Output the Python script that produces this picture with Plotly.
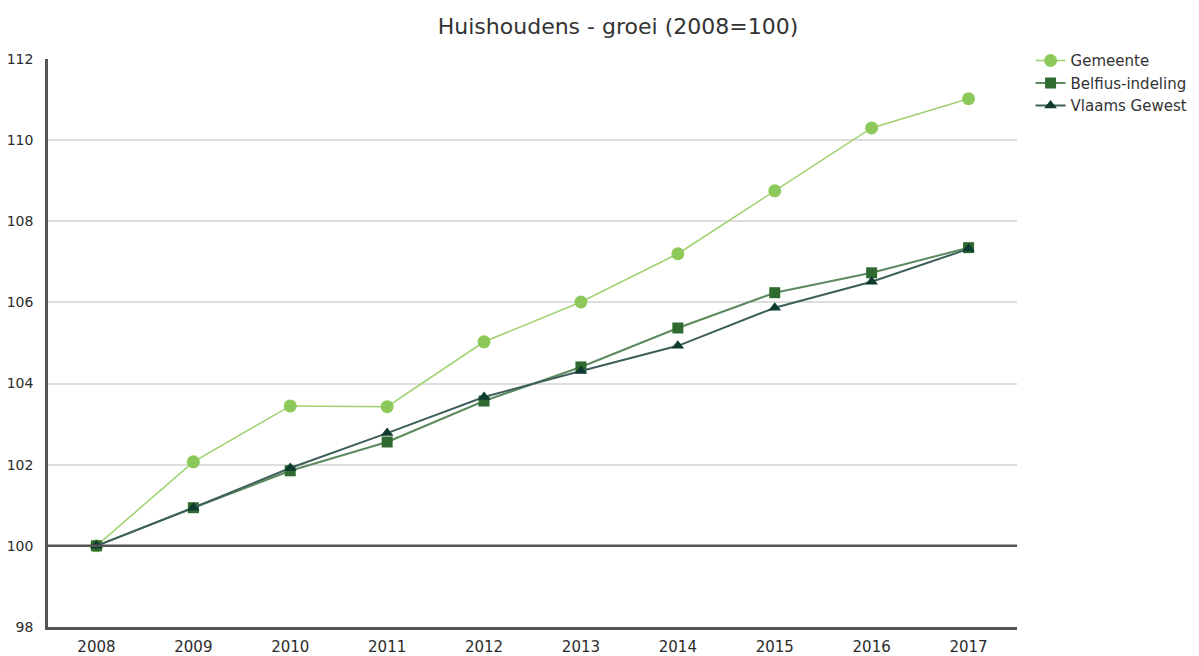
import plotly.graph_objects as go

years = ['2008', '2009', '2010', '2011', '2012', '2013', '2014', '2015', '2016', '2017']
gemeente = [100.0, 102.07, 103.45, 103.43, 105.03, 106.01, 107.2, 108.75, 110.3, 111.02]
belfius = [100.0, 100.94, 101.85, 102.56, 103.57, 104.41, 105.37, 106.24, 106.73, 107.35]
vlaams = [100.0, 100.94, 101.92, 102.78, 103.67, 104.31, 104.93, 105.87, 106.51, 107.32]
y_ticks = [98, 100, 102, 104, 106, 108, 110, 112]

FONT = 'DejaVu Sans'

fig = go.Figure()

fig.add_trace(go.Scatter(
    x=years, y=gemeente, name='Gemeente', mode='lines+markers',
    line=dict(color='#9fd16e', width=1.5),
    marker=dict(symbol='circle', size=13, color='#8cc95a'),
))
fig.add_trace(go.Scatter(
    x=years, y=belfius, name='Belfius-indeling', mode='lines+markers',
    line=dict(color='#5c8a5e', width=2),
    marker=dict(symbol='square', size=11, color='#2f6b31'),
))
fig.add_trace(go.Scatter(
    x=years, y=vlaams, name='Vlaams Gewest', mode='lines+markers',
    line=dict(color='#3f5f5c', width=2),
    marker=dict(symbol='triangle-up', size=11, color='#0d3b2f'),
))

# dark reference line at the base year level
fig.add_shape(type='line', xref='paper', yref='y', x0=0, x1=1, y0=100, y1=100,
              line=dict(color='#555555', width=2.5), layer='above')

fig.update_layout(
    width=1199, height=656,
    paper_bgcolor='white', plot_bgcolor='white',
    margin=dict(l=40, r=190, t=51, b=37),
    title=dict(
        text='Huishoudens - groei (2008=100)',
        x=(618 - 8) / 1199, xanchor='center', y=1 - (26 - 8) / 656, yanchor='middle',
        font=dict(family=FONT, size=22, color='#333333'),
    ),
    xaxis=dict(
        type='category', range=[-0.5, 9.5], automargin=False,
        showgrid=False, showline=True, linecolor='#555555', linewidth=2.5,
        ticks='', ticklabelstandoff=4,
        tickfont=dict(family=FONT, size=15, color='#2b2b2b'),
    ),
    yaxis=dict(
        range=[98, 112], tickvals=y_ticks, automargin=False,
        showgrid=True, gridcolor='#dddddd', gridwidth=2,
        showline=True, linecolor='#555555', linewidth=2.5,
        zeroline=False, ticks='', ticklabelstandoff=9,
        tickfont=dict(family=FONT, size=14, color='#2b2b2b'),
    ),
    showlegend=True,
    legend=dict(
        x=1.014, y=1.026, xanchor='left', yanchor='top',
        font=dict(family=FONT, size=15, color='#333333'),
        itemwidth=30, tracegroupgap=0,
        bgcolor='rgba(0,0,0,0)',
    ),
)

fig.write_html('out.html')
